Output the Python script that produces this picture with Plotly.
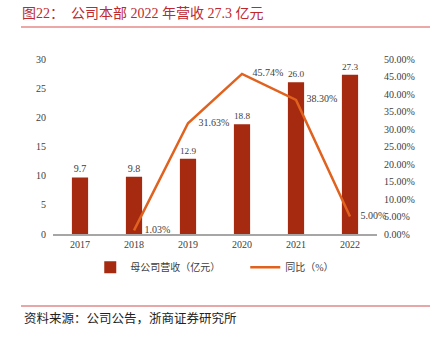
import plotly.graph_objects as go

years = ["2017", "2018", "2019", "2020", "2021", "2022"]
revenue = [9.7, 9.8, 12.9, 18.8, 26.0, 27.3]
revenue_labels = ["9.7", "9.8", "12.9", "18.8", "26.0", "27.3"]
growth_years = ["2018", "2019", "2020", "2021", "2022"]
growth = [1.03, 31.63, 45.74, 38.30, 5.00]
growth_labels = ["1.03%", "31.63%", "45.74%", "38.30%", "5.00%"]

FONT = "Liberation Serif, Noto Sans CJK SC, serif"
BAR_C = "#A52A10"
LINE_C = "#E0621E"
TXT_C = "#404040"

fig = go.Figure()
fig.add_trace(go.Bar(
    x=years, y=revenue, name="母公司营收（亿元）",
    marker=dict(color=BAR_C, line=dict(width=0)),
    width=0.3,
    text=revenue_labels, textposition="outside",
    textfont=dict(size=10, color=TXT_C, family=FONT),
    cliponaxis=False,
))
fig.add_trace(go.Scatter(
    x=growth_years, y=growth, name="同比（%）", yaxis="y2",
    mode="lines+markers+text",
    line=dict(color=LINE_C, width=2.5),
    marker=dict(size=15, color="rgba(0,0,0,0)"),
    text=growth_labels, textposition="middle right",
    textfont=dict(size=10, color=TXT_C, family=FONT),
    cliponaxis=False,
))

fig.update_layout(
    width=435, height=338,
    margin=dict(l=53, r=58, t=59, b=104),
    paper_bgcolor="white", plot_bgcolor="white",
    font=dict(family=FONT, size=10, color=TXT_C),
    showlegend=True,
    legend=dict(orientation="h", x=0.115, y=-0.19, xanchor="left", yanchor="middle",
                font=dict(size=10, color=TXT_C, family=FONT),
                entrywidth=110, entrywidthmode="pixels", bgcolor="rgba(0,0,0,0)"),
    xaxis=dict(showline=True, linecolor="#A6A6A6", linewidth=1.5, ticks="",
               showgrid=False, tickfont=dict(size=10, color=TXT_C)),
    yaxis=dict(range=[0, 30], dtick=5, showgrid=False, showline=False, zeroline=False,
               ticks="", tickfont=dict(size=10, color=TXT_C), ticklabelstandoff=6),
    yaxis2=dict(range=[0, 50], dtick=5, overlaying="y", side="right", showgrid=False,
                showline=False, zeroline=False, ticks="", ticksuffix="%", tickformat=".2f",
                tickfont=dict(size=10, color=TXT_C), ticklabelstandoff=6),
    bargap=0.7,
    title=dict(text="图22：  公司本部 2022 年营收 27.3 亿元",
               x=22/435, xanchor="left", xref="container",
               y=1-13/338, yanchor="middle", yref="container",
               font=dict(size=14, color="#C0282D", family=FONT)),
)

fig.add_shape(type="line", xref="paper", yref="paper",
              x0=(21-53)/324, x1=(430-53)/324, y0=(234-27)/175, y1=(234-27)/175,
              line=dict(color="#D9534F", width=1.2))
fig.add_shape(type="line", xref="paper", yref="paper",
              x0=(21-53)/324, x1=(430-53)/324, y0=(234-306)/175, y1=(234-306)/175,
              line=dict(color="#E08A8A", width=1.5))
fig.add_annotation(text="资料来源：公司公告，浙商证券研究所", xref="paper", yref="paper",
                   x=(22-53)/324, y=(234-318)/175, xanchor="left", yanchor="middle",
                   showarrow=False, font=dict(size=12.5, color="#222222", family=FONT))

fig.write_html("out.html")
